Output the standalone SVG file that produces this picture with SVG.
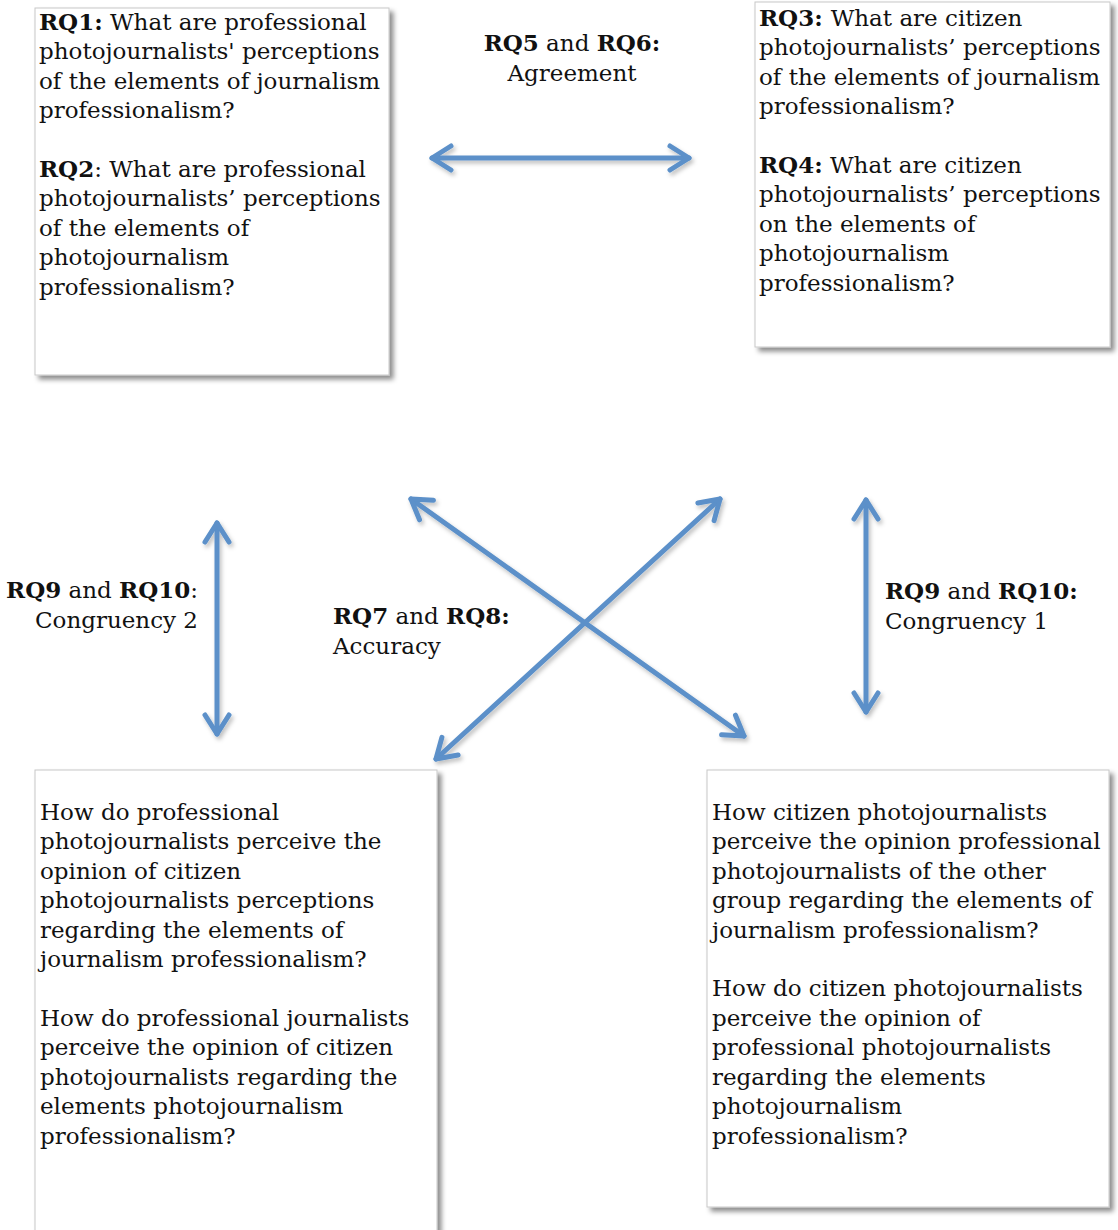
<svg xmlns="http://www.w3.org/2000/svg" width="1118" height="1230" viewBox="0 0 1118 1230">
<style>
  text { font-family: "Palatino Linotype", "Book Antiqua", Palatino, "DejaVu Serif", serif; font-size: 23px; fill: #111; }
  .b { font-weight: bold; }
  .box { fill: #fff; stroke: #c8c8c8; stroke-width: 1; }
  .conn { stroke: #5b90c9; stroke-width: 5; fill: none; stroke-linecap: round; }
</style>
<defs>
  <filter id="shadow" x="-10%" y="-10%" width="130%" height="130%">
    <feDropShadow dx="4" dy="4" stdDeviation="2.5" flood-color="#000" flood-opacity="0.45"/>
  </filter>
  <filter id="ashadow" x="-20%" y="-20%" width="140%" height="140%">
    <feDropShadow dx="2" dy="3" stdDeviation="2" flood-color="#000" flood-opacity="0.25"/>
  </filter>
  <marker id="head" viewBox="-30 -20 40 40" markerWidth="40" markerHeight="40" refX="0" refY="0" markerUnits="userSpaceOnUse" orient="auto-start-reverse" overflow="visible">
    <path d="M -19 -12 L 0 0 L -19 12" fill="none" stroke="#5b90c9" stroke-width="5" stroke-linecap="round" stroke-linejoin="round"/>
  </marker>
</defs>

<g id="box1">
  <rect class="box" x="35" y="8" width="354" height="367" filter="url(#shadow)"/>
  <text x="39" y="30"><tspan class="b">RQ1:</tspan> What are professional</text>
  <text x="39" y="59">photojournalists' perceptions</text>
  <text x="39" y="89">of the elements of journalism</text>
  <text x="39" y="118">professionalism?</text>
  <text x="39" y="177"><tspan class="b">RQ2</tspan>: What are professional</text>
  <text x="39" y="206">photojournalists’ perceptions</text>
  <text x="39" y="236">of the elements of</text>
  <text x="39" y="265">photojournalism</text>
  <text x="39" y="295">professionalism?</text>
</g>

<g id="box2">
  <rect class="box" x="755" y="2" width="355" height="345" filter="url(#shadow)"/>
  <text x="759" y="26"><tspan class="b">RQ3:</tspan><tspan dx="8">What are citizen</tspan></text>
  <text x="759" y="55">photojournalists’ perceptions</text>
  <text x="759" y="85">of the elements of journalism</text>
  <text x="759" y="114">professionalism?</text>
  <text x="759" y="173"><tspan class="b">RQ4:</tspan> What are citizen</text>
  <text x="759" y="202">photojournalists’ perceptions</text>
  <text x="759" y="232">on the elements of</text>
  <text x="759" y="261">photojournalism</text>
  <text x="759" y="291">professionalism?</text>
</g>

<g id="box3">
  <rect class="box" x="35" y="770" width="402" height="470" filter="url(#shadow)"/>
  <text x="40" y="820">How do professional</text>
  <text x="40" y="849">photojournalists perceive the</text>
  <text x="40" y="879">opinion of citizen</text>
  <text x="40" y="908">photojournalists perceptions</text>
  <text x="40" y="938">regarding the elements of</text>
  <text x="40" y="967">journalism professionalism?</text>
  <text x="40" y="1026">How do professional journalists</text>
  <text x="40" y="1055">perceive the opinion of citizen</text>
  <text x="40" y="1085">photojournalists regarding the</text>
  <text x="40" y="1114">elements photojournalism</text>
  <text x="40" y="1144">professionalism?</text>
</g>

<g id="box4">
  <rect class="box" x="707" y="770" width="402" height="437" filter="url(#shadow)"/>
  <text x="712" y="820">How citizen photojournalists</text>
  <text x="712" y="849">perceive the opinion professional</text>
  <text x="712" y="879">photojournalists of the other</text>
  <text x="712" y="908">group regarding the elements of</text>
  <text x="712" y="938">journalism professionalism?</text>
  <text x="712" y="996">How do citizen photojournalists</text>
  <text x="712" y="1026">perceive the opinion of</text>
  <text x="712" y="1055">professional photojournalists</text>
  <text x="712" y="1085">regarding the elements</text>
  <text x="712" y="1114">photojournalism</text>
  <text x="712" y="1144">professionalism?</text>
</g>

<g id="connectors" filter="url(#ashadow)">
  <line class="conn" x1="432" y1="158" x2="689" y2="158" marker-start="url(#head)" marker-end="url(#head)"/>
  <line class="conn" x1="217" y1="523" x2="217" y2="734" marker-start="url(#head)" marker-end="url(#head)"/>
  <line class="conn" x1="866" y1="500" x2="866" y2="712" marker-start="url(#head)" marker-end="url(#head)"/>
  <line class="conn" x1="411" y1="499" x2="744" y2="736" marker-start="url(#head)" marker-end="url(#head)"/>
  <line class="conn" x1="720" y1="499" x2="436" y2="759" marker-start="url(#head)" marker-end="url(#head)"/>
</g>

<g id="label-agreement">
  <text x="572" y="51" text-anchor="middle"><tspan class="b">RQ5</tspan> and <tspan class="b">RQ6:</tspan></text>
  <text x="572" y="81" text-anchor="middle">Agreement</text>
</g>
<g id="label-congruency2">
  <text x="198" y="598" text-anchor="end"><tspan class="b">RQ9</tspan> and <tspan class="b">RQ10</tspan>:</text>
  <text x="198" y="628" text-anchor="end">Congruency 2</text>
</g>
<g id="label-accuracy">
  <text x="333" y="624"><tspan class="b">RQ7</tspan> and <tspan class="b">RQ8:</tspan></text>
  <text x="333" y="654">Accuracy</text>
</g>
<g id="label-congruency1">
  <text x="885" y="599"><tspan class="b">RQ9</tspan> and <tspan class="b">RQ10:</tspan></text>
  <text x="885" y="629">Congruency 1</text>
</g>
</svg>
